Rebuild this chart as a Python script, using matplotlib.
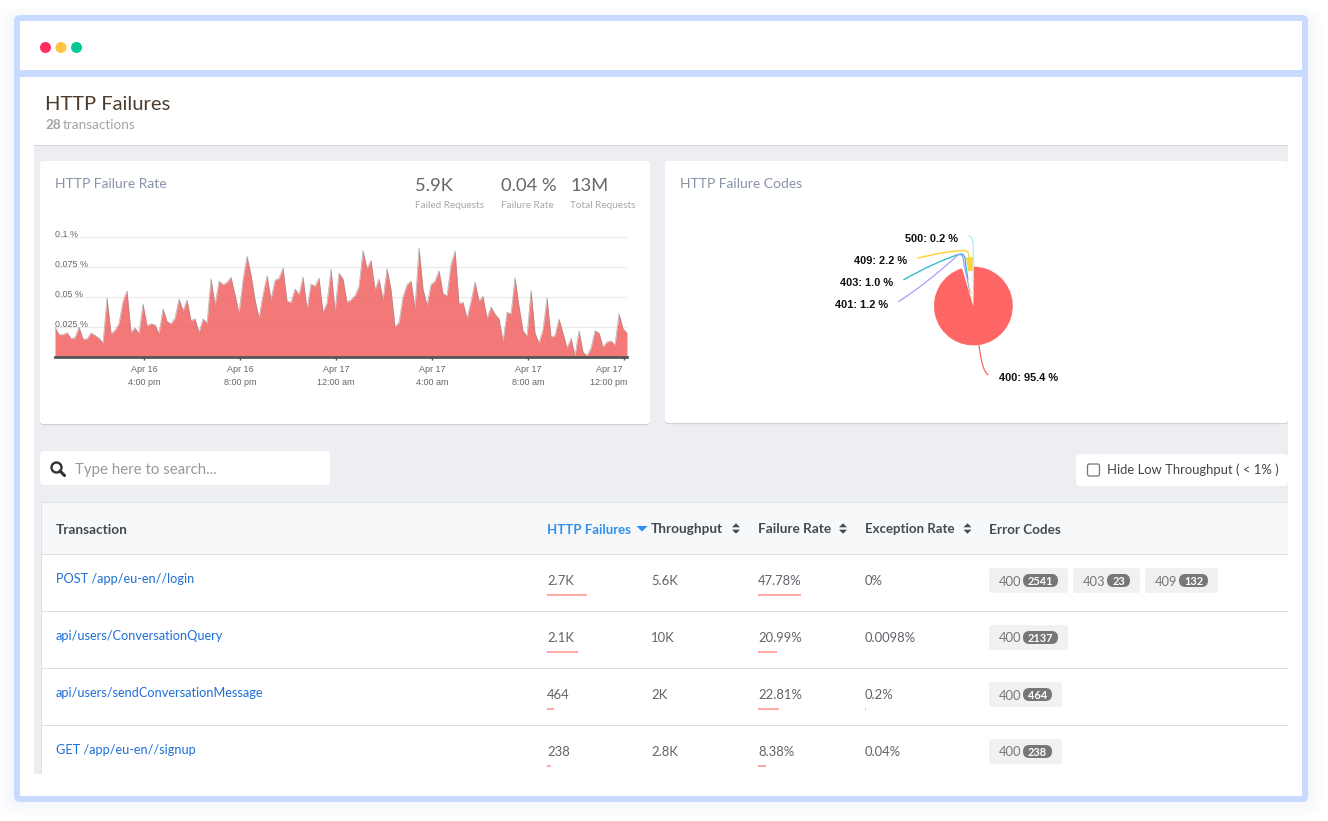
import numpy as np
import matplotlib
matplotlib.use("Agg")
import matplotlib.pyplot as plt
from matplotlib.patches import FancyBboxPatch, Rectangle, Circle, Polygon, PathPatch
from matplotlib.path import Path
from matplotlib.transforms import ScaledTranslation

# ---------- data ----------
failure_rate = [
 .0250,.0186,.0186,.0203,.0153,.0161,.0250,.0150,.0150,.0200,.0180,.0156,.0117,.0492,.0194,.0222,.0278,.0464,.0550,.0206,
 .0242,.0197,.0442,.0261,.0278,.0267,.0197,.0400,.0297,.0278,.0325,.0483,.0386,.0475,.0303,.0319,.0206,.0317,.0283,.0653,
 .0433,.0631,.0603,.0622,.0664,.0519,.0367,.0644,.0839,.0686,.0478,.0325,.0519,.0678,.0478,.0639,.0656,.0742,.0464,.0456,
 .0567,.0519,.0667,.0400,.0608,.0589,.0658,.0375,.0450,.0733,.0383,.0700,
 .0650,.0456,.0478,.0511,.0589,.0886,.0736,.0806,.0561,.0650,.0478,.0736,.0561,.0250,.0289,.0500,.0603,.0633,.0406,.0908,
 .0567,.0431,.0603,.0633,.0719,.0528,.0511,.0769,.0883,.0444,.0456,.0322,.0464,.0625,.0467,.0506,.0322,.0417,.0358,.0319,
 .0131,.0372,.0361,.0661,.0422,.0219,.0172,.0558,.0200,.0117,.0228,.0492,.0167,.0178,.0317,.0200,.0075,.0156,.0011,.0217,
 .0042,.0011,.0075,.0219,.0200,.0083,.0125,.0133,.0100,.0361,.0236,.0200]
start_hour = 12 + 17.5 / 60          # Apr 16, hours since midnight
step_hours = 10 / 60
rate_ticks = [0.025, 0.05, 0.075, 0.1]
rate_tick_labels = ["0.025 %", "0.05 %", "0.075 %", "0.1 %"]
time_ticks = [16, 20, 24, 28, 32, 36]
time_tick_labels = ["Apr 16\n4:00 pm", "Apr 16\n8:00 pm", "Apr 17\n12:00 am",
                    "Apr 17\n4:00 am", "Apr 17\n8:00 am", "Apr 17\n12:00 pm"]

code_names = ["400", "401", "403", "409", "500"]
code_shares = [95.4, 1.2, 1.0, 2.2, 0.2]
code_colors = ["#ff6666", "#b197fc", "#22b8cf", "#ffd43b", "#a5eef5"]

stats = [("5.9K", "Failed Requests"), ("0.04 %", "Failure Rate"), ("13M", "Total Requests")]

transactions = ["POST /app/eu-en//login", "api/users/ConversationQuery",
                "api/users/sendConversationMessage", "GET /app/eu-en//signup"]
failures_text = ["2.7K", "2.1K", "464", "238"]
failures_vals = [2700, 2100, 464, 238]
throughput_text = ["5.6K", "10K", "2K", "2.8K"]
failrate_text = ["47.78%", "20.99%", "22.81%", "8.38%"]
failrate_vals = [47.78, 20.99, 22.81, 8.38]
exception_text = ["0%", "0.0098%", "0.2%", "0.04%"]
exception_vals = [0, 0.0098, 0.2, 0.04]
error_codes = [[("400", "2541"), ("403", "23"), ("409", "132")],
               [("400", "2137")], [("400", "464")], [("400", "238")]]

# ---------- page ----------
W, H = 1328, 821
fig = plt.figure(figsize=(W / 100, H / 100), dpi=100, facecolor="white")
bg = fig.add_axes([0, 0, 1, 1], zorder=0)
top = fig.add_axes([0, 0, 1, 1], zorder=5)
for a in (bg, top):
    a.set_xlim(0, W); a.set_ylim(H, 0); a.axis("off")
top.patch.set_alpha(0)

BODY = "Lato"
ARIAL = "Liberation Sans"

def box(ax, x0, y0, x1, y1, color, r=0, z=1, **kw):
    if r:
        p = FancyBboxPatch((x0, y0), x1 - x0, y1 - y0, boxstyle=f"round,pad=0,rounding_size={r}",
                           fc=color, ec="none", zorder=z, **kw)
    else:
        p = Rectangle((x0, y0), x1 - x0, y1 - y0, fc=color, ec="none", zorder=z, **kw)
    ax.add_patch(p)
    return p

def txt(x, y, s, px, color="#555555", family=BODY, weight="normal", ha="left", ax=None, **kw):
    return (ax or top).text(x, y, s, fontsize=px * 0.72, color=color, family=family,
                            fontweight=weight, ha=ha, va="baseline", **kw)

# window shadow and frame
for grow in range(16, 0, -2):
    box(bg, 14 - grow, 15 - grow + 7, 1308 + grow, 802 + grow, "#c8d9fd", r=8 + grow, z=0.5, alpha=0.018)
FRAME = "#c9daff"
box(bg, 14, 15, 1308, 802, FRAME, r=6, z=1)
box(bg, 20, 21, 1302, 70.5, "white", z=2)
box(bg, 20, 77.5, 1302, 796, "white", z=2)
for cx, col in zip((45.5, 61, 76.5), ("#ff2d62", "#ffc542", "#00c896")):
    bg.add_patch(Circle((cx, 47.5), 5.5, fc=col, ec="none", zorder=3))

txt(45, 110, "HTTP Failures", 20.2, color="#4e3d2e")
t = txt(45, 129, "28", 13.5, color="#a3a3a3", weight="bold")
txt(63, 129, "transactions", 13.5, color="#a3a3a3")

# gray content region
box(bg, 34, 145, 1288, 774, "#edeef2", z=2)
box(bg, 34, 145, 1288, 146, "#d4d5db", z=3)

# cards
for x0, y0, x1, y1 in ((40, 161, 650, 424), (665, 161, 1288, 423)):
    box(bg, x0, y0 + 1, x1, y1 + 1.2, "#cfd0d8", r=3, z=3)
    box(bg, x0, y0, x1, y1, "white", r=3, z=4)
txt(55, 188, "HTTP Failure Rate", 13.9, color="#8792a8")
txt(680, 188, "HTTP Failure Codes", 13.9, color="#8792a8")
for (val, lab), vx in zip(stats, (415, 501, 570.5)):
    txt(vx, 191, val, 18.4, color="#666666")
    txt(vx, 208, lab, 10.0, color="#a8a8a8")

# search and checkbox
box(bg, 40, 451, 330, 485, "white", r=4, z=4)
bg.add_patch(Circle((56.5, 467.5), 5, fc="none", ec="#333333", lw=1.7, zorder=5))
bg.plot([60, 64.5], [471, 475.5], color="#333333", lw=2.2, zorder=5, solid_capstyle="round")
txt(75, 474, "Type here to search...", 15, color="#999999")
box(bg, 1076, 454, 1288, 486, "white", r=4, z=4)
bg.add_patch(FancyBboxPatch((1087.5, 464), 12, 12, boxstyle="round,pad=0,rounding_size=2",
                            fc="white", ec="#767676", lw=0.9, zorder=5))
txt(1107, 474, "Hide Low Throughput ( < 1% )", 13.0, color="#444444")

# table
box(bg, 40.5, 502, 1288, 774, "#dde3e3", z=4)
box(bg, 41.5, 503, 1288, 774, "white", z=5)
box(bg, 41.5, 503, 1288, 554, "#f7f8fa", z=5)
for y in (554, 611, 668, 725):
    box(bg, 41.5, y, 1288, y + 1.2, "#dedede", z=6)

HEAD = "#444a52"
HEAD_PX = 13.6
txt(56, 534, "Transaction", HEAD_PX, color=HEAD, weight="bold")
txt(547, 534, "HTTP Failures", 13.3, color="#2e90ea", weight="bold")
txt(651, 533, "Throughput", HEAD_PX, color=HEAD, weight="bold")
txt(758, 533, "Failure Rate", HEAD_PX, color=HEAD, weight="bold")
txt(865, 533, "Exception Rate", 13.3, color=HEAD, weight="bold")
txt(989, 534, "Error Codes", 13.5, color=HEAD, weight="bold")
top.add_patch(Polygon([(636.5, 526), (647.5, 526), (642, 531.5)], fc="#2e90ea", ec="none"))
for sx in (736, 843, 967.5):
    top.add_patch(Polygon([(sx - 4, 527.3), (sx + 4, 527.3), (sx, 523.3)], fc=HEAD, ec="none"))
    top.add_patch(Polygon([(sx - 4, 529.7), (sx + 4, 529.7), (sx, 533.7)], fc=HEAD, ec="none"))

BAR = "#ffaaa5"
ROW = "#5f6368"
ROW_PX = 13.0
for i in range(4):
    y0 = 57 * i
    txt(56, 583 + y0, transactions[i], 12.75, color="#1f6fd6")
    txt(547, 585 + y0, failures_text[i], ROW_PX, color=ROW)
    txt(651, 585 + y0, throughput_text[i], ROW_PX, color=ROW)
    txt(758, 585 + y0, failrate_text[i], ROW_PX, color=ROW)
    txt(865, 585 + y0, exception_text[i], ROW_PX, color=ROW)
    box(top, 547, 594.5 + y0, 547 + failures_vals[i] / max(failures_vals) * 40, 596.5 + y0, BAR)
    box(top, 758, 594.5 + y0, 758 + failrate_vals[i] / max(failrate_vals) * 43, 596.5 + y0, BAR)
    if exception_vals[i] >= 0.1:
        box(top, 865, 594.5 + y0, 865 + exception_vals[i] * 5, 596.5 + y0, BAR)
    x = 989
    for code, count in error_codes[i]:
        pill_w = {4: 35, 3: 29, 2: 23}[len(count)]
        w = 34 + pill_w + 10
        box(top, x, 568 + y0, x + w, 593 + y0, "#f1f1f1", r=3, z=2)
        txt(x + 10, 585.5 + y0, code, ROW_PX, color="#777777", zorder=3)
        box(top, x + 34, 574 + y0, x + 34 + pill_w, 587 + y0, "#777777", r=6.4, z=3)
        txt(x + 34 + pill_w / 2, 585 + y0, count, 11, color="white", weight="bold", ha="center", zorder=4)
        x += w + 5

# ---------- area chart ----------
ax = fig.add_axes([55 / W, (H - 357) / H, 572 / W, 120 / H], zorder=3)
ax.patch.set_alpha(0)
hours = start_hour + np.arange(len(failure_rate)) * step_hours
ax.fill_between(hours, failure_rate, 0, color="#f15b5b", alpha=0.82, lw=0, zorder=2)
ax.plot(hours, failure_rate, color="#9a8a8a", lw=0.5, alpha=0.7, zorder=3)
ax.set_xlim(start_hour, start_hour + 572 / 24)
ax.set_ylim(0, 0.1)
ax.set_yticks(rate_ticks, rate_tick_labels)
ax.set_xticks(time_ticks, time_tick_labels)
ax.grid(axis="y", color="#ebebeb", lw=0.9, zorder=1)
ax.set_axisbelow(True)
for s in ("top", "left", "right"):
    ax.spines[s].set_visible(False)
ax.spines["bottom"].set_color("#555555")
ax.spines["bottom"].set_linewidth(2.0)
ax.tick_params(axis="y", length=0, pad=0)
ax.tick_params(axis="x", length=2.5, width=1.0, color="#555555", pad=3)
up = ScaledTranslation(0, 2.5 / 72 * 0.72, fig.dpi_scale_trans)
for l in ax.get_yticklabels():
    l.set(ha="left", va="center", family=ARIAL, fontsize=6.4, color="#666666")
    l.set_transform(l.get_transform() + up)
for l in ax.get_xticklabels():
    l.set(family=ARIAL, fontsize=6.5, color="#666666", linespacing=1.65)
last = ax.get_xticklabels()[-1]
last.set_transform(last.get_transform() + ScaledTranslation(-15 / 100, 0, fig.dpi_scale_trans))

# ---------- pie ----------
CX, CY, R = 973.4, 306, 39.4
pa = fig.add_axes([(CX - 60) / W, (H - CY - 60) / H, 120 / W, 120 / H], zorder=4)
pa.patch.set_alpha(0)
wedges, _ = pa.pie(code_shares, colors=code_colors, startangle=90, counterclock=False, radius=R,
                   center=(0, 0), wedgeprops=dict(lw=0))
pa.set_xlim(-60, 60); pa.set_ylim(-60, 60); pa.set_aspect("equal"); pa.axis("off")
wedges[1].set_facecolor("white"); wedges[2].set_facecolor("white")
wedges[3].set_radius(49); wedges[3].set_width(14)
wedges[4].set_facecolor("white")

def curve(points, color, lw=0.9):
    codes = [Path.MOVETO] + [Path.CURVE3] * (len(points) - 1)
    top.add_patch(PathPatch(Path(points, codes), fc="none", ec=color, lw=lw))

curve([(979, 345), (982, 372), (988.5, 375)], code_colors[0])
curve([(917.3, 258.3), (945, 251), (964, 250.5), (969, 250.5), (969, 257)], code_colors[3], 1.1)
curve([(903.3, 280), (935, 262), (960, 254), (964, 253.5), (965, 258), (966, 270), (970, 292)], code_colors[2])
curve([(898.3, 301.7), (925, 285), (958, 255), (962, 253.5), (963, 258), (965, 272), (971, 294)], code_colors[1])
curve([(968.3, 235.7), (973, 236), (973.3, 247), (973.3, 262), (973.3, 285)], code_colors[4])
top.add_line(plt.Line2D([968.5, 972.5], [280, 302], color="#fff1b8", lw=0.8))

for (x, y, code) in ((905, 242, 4), (854, 264, 3), (840, 286, 2), (835, 308, 1), (999, 381, 0)):
    txt(x, y, f"{code_names[code]}: {code_shares[code]} %", 11, color="#111111", family=ARIAL, weight="bold")

fig.savefig("out.png", dpi=100, facecolor="white")
